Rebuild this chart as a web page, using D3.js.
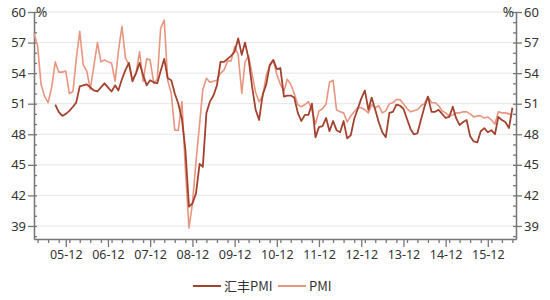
<!DOCTYPE html>
<html><head><meta charset="utf-8">
<script src="https://cdn.jsdelivr.net/npm/d3@7"></script>
<style>
body{margin:0;background:#fff;}
svg{display:block;}
text{font-family:"Noto Sans","Noto Sans CJK SC",sans-serif;}
</style></head>
<body><svg id="c" width="550" height="300"></svg>
<script>
// ---- data ----
const firstMonth = "2005-03";
const lastMonth = "2016-07";
const seriesNames = ["汇丰PMI", "PMI"];
const tickLabels = ["05-12","06-12","07-12","08-12","09-12","10-12","11-12","12-12","13-12","14-12","15-12"];
const yTicks = [39,42,45,48,51,54,57,60];
const pmi = [
 57.9,56.7,52.9,51.7,51.1,52.6,55.1,54.1,54.1,54.2,
 52.0,52.2,55.3,58.1,54.8,54.2,52.4,54.7,57.0,55.1,55.3,55.1,
 55.0,53.2,56.1,58.6,55.5,54.8,53.3,54.0,56.1,53.2,55.4,55.3,
 53.0,53.4,58.4,59.2,53.3,52.0,48.4,48.4,51.2,44.6,38.8,41.2,
 45.3,49.0,52.4,53.5,53.1,53.2,53.3,54.0,54.3,55.2,55.2,56.6,
 55.8,52.0,55.1,55.7,53.9,52.1,51.2,51.7,53.8,54.7,55.2,53.9,
 52.9,52.2,53.4,52.9,52.0,50.9,50.7,50.9,51.2,50.4,49.0,50.3,
 50.5,51.0,53.1,53.3,50.4,50.2,50.1,49.2,49.8,50.2,50.6,50.6,
 50.4,50.1,50.9,50.6,50.8,50.1,50.3,51.0,51.1,51.4,51.4,51.0,
 50.5,50.2,50.3,50.4,50.8,51.0,51.7,51.1,51.1,50.8,50.3,50.1,
 49.8,49.9,50.1,50.1,50.2,50.2,50.0,49.7,49.8,49.8,49.6,49.7,
 49.4,49.0,50.2,50.1,50.1,50.0,49.9
];
const hsbc = [
 null,null,null,null,null,null,50.9,50.2,49.8,50.0,
 50.3,50.7,51.1,52.7,52.8,52.9,52.6,52.3,52.2,52.6,53.0,52.6,
 52.2,52.8,52.3,53.4,54.3,55.0,53.2,54.0,55.0,53.8,52.8,53.3,
 53.1,53.0,54.2,55.4,53.5,53.3,52.0,51.0,49.5,46.5,40.9,41.2,
 42.2,45.1,44.8,50.1,51.2,51.8,52.8,55.1,55.1,55.4,55.7,56.1,
 57.4,55.8,57.0,55.4,52.7,50.4,49.4,51.9,52.9,54.8,55.3,54.4,
 54.5,51.7,51.8,51.8,51.6,50.1,49.3,49.9,49.9,51.0,47.7,48.7,
 48.8,49.6,48.3,49.3,48.4,48.2,49.3,47.6,47.9,49.5,50.5,51.5,
 52.3,50.4,51.6,50.4,49.2,48.2,47.7,50.1,50.2,50.9,50.8,50.5,
 49.5,48.5,48.0,48.1,49.4,50.7,51.7,50.2,50.2,50.4,50.0,49.6,
 49.7,50.7,49.6,48.9,49.2,49.4,47.8,47.3,47.2,48.3,48.6,48.2,
 48.4,48.0,49.7,49.4,49.2,48.6,50.6
];
const colors = ["#a3432f", "#e8957f"];

// ---- chart ----
const svg = d3.select("#c");
const parseM = d3.utcParse("%Y-%m");
const parseT = d3.utcParse("%y-%m");
const t0 = parseM(firstMonth), tLast = parseM(lastMonth);
const tEnd = d3.utcMonth.offset(tLast, 1);
const months = d3.utcMonth.range(t0, tEnd);

const L = 34, R = 516, T = 12, B = 239;
const x = d3.scaleUtc().domain([t0, tEnd]).range([L, R]);
const y = d3.scaleLinear().domain([37.72, 60]).range([B, T]);

// grid
svg.append("g").selectAll("line").data(yTicks).join("line")
  .attr("x1", L).attr("x2", R)
  .attr("y1", d => y(d)).attr("y2", d => y(d))
  .attr("stroke", "#e6e6e6").attr("stroke-width", 1);

const axisColor = "#777";
function styleAxis(g, fs){
  g.selectAll("path").attr("stroke", axisColor).attr("stroke-width", 1.3);
  g.selectAll("line").attr("stroke", axisColor).attr("stroke-width", 1.3);
  g.selectAll("text").attr("fill", "#333").style("font-size", fs + "px")
    .style("font-family", "'Noto Sans',sans-serif");
}
const minorY = d3.range(38, 61);
// left minor (inside)
svg.append("g").attr("transform", `translate(${L},0)`)
  .call(d3.axisLeft(y).tickValues(minorY).tickSize(-3).tickFormat("").tickSizeOuter(0))
  .call(g => styleAxis(g, 12));
svg.append("g").attr("transform", `translate(${L},0)`)
  .call(d3.axisLeft(y).tickValues(yTicks).tickSize(6).tickPadding(2).tickSizeOuter(0))
  .call(g => styleAxis(g, 13));
// right
svg.append("g").attr("transform", `translate(${R},0)`)
  .call(d3.axisRight(y).tickValues(minorY).tickSize(-3).tickFormat("").tickSizeOuter(0))
  .call(g => styleAxis(g, 12));
svg.append("g").attr("transform", `translate(${R},0)`)
  .call(d3.axisRight(y).tickValues(yTicks).tickSize(6).tickPadding(2).tickSizeOuter(0))
  .call(g => styleAxis(g, 13));

// bottom
const quarterTicks = d3.utcMonth.every(3).range(t0, tEnd);
svg.append("g").attr("transform", `translate(0,${B})`)
  .call(d3.axisBottom(x).tickValues(quarterTicks).tickSize(4).tickFormat("").tickSizeOuter(0))
  .call(g => styleAxis(g, 12));
svg.append("g").attr("transform", `translate(0,${B})`)
  .call(d3.axisBottom(x).tickValues(tickLabels.map(parseT)).tickSize(8).tickPadding(3)
    .tickFormat(d3.utcFormat("%y-%m")).tickSizeOuter(0))
  .call(g => styleAxis(g, 12.5))
  .call(g => g.select(".domain").remove());

// % labels
svg.append("text").attr("x", L + 2).attr("y", T + 5).text("%")
  .attr("fill", "#333").style("font-size", "13.5px");
svg.append("text").attr("x", R - 2).attr("y", T + 5).attr("text-anchor", "end").text("%")
  .attr("fill", "#333").style("font-size", "13.5px");

// lines
const series = [hsbc, pmi];
const line = d3.line().defined(d => d.v != null).x(d => x(d.t)).y(d => y(d.v));
[1, 0].forEach(k => {
  const data = months.map((t, i) => ({t, v: series[k][i]}));
  svg.append("path").datum(data).attr("d", line)
    .attr("fill", "none").attr("stroke", colors[k])
    .attr("stroke-width", k === 0 ? 1.8 : 1.6).attr("stroke-linejoin", "round");
});

// legend
const leg = [{x: 193, tx: 224}, {x: 278, tx: 309}];
seriesNames.forEach((n, k) => {
  svg.append("line").attr("x1", leg[k].x).attr("x2", leg[k].x + 28)
    .attr("y1", 286).attr("y2", 286).attr("stroke", colors[k]).attr("stroke-width", 2);
  svg.append("text").attr("x", leg[k].tx).attr("y", 291).text(n)
    .attr("fill", "#333").style("font-size", "13px")
    .style("font-family", "'Noto Sans CJK SC','Noto Sans',sans-serif");
});
</script>
</body></html>
